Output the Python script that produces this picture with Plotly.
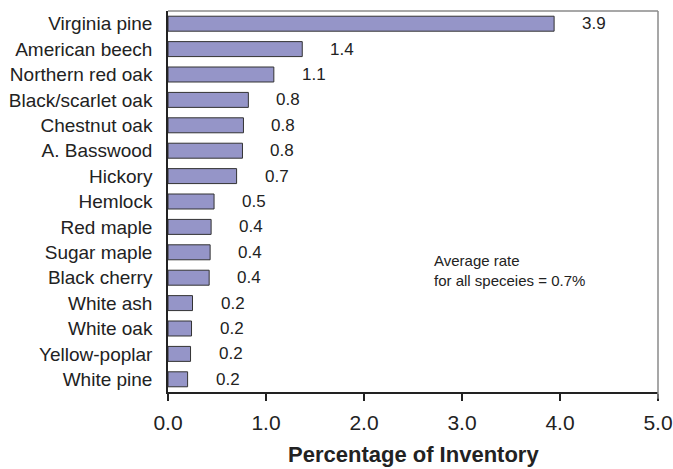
import plotly.graph_objects as go

# Species ranked by rate, as a percentage of inventory
species = [
    "Virginia pine", "American beech", "Northern red oak", "Black/scarlet oak",
    "Chestnut oak", "A. Basswood", "Hickory", "Hemlock", "Red maple",
    "Sugar maple", "Black cherry", "White ash", "White oak", "Yellow-poplar",
    "White pine",
]
rates = [3.94, 1.37, 1.08, 0.82, 0.77, 0.76, 0.70, 0.47, 0.44,
         0.43, 0.42, 0.25, 0.24, 0.23, 0.20]

x_ticks = [0, 1, 2, 3, 4, 5]
x_tick_labels = ["0.0", "1.0", "2.0", "3.0", "4.0", "5.0"]

note_text = "Average rate<br>for all speceies = 0.7%"
x_title = "Percentage of Inventory"

FONT = "Liberation Sans, Arial, sans-serif"
TEXT = "#222222"

fig = go.Figure(
    go.Bar(
        x=rates,
        y=species,
        orientation="h",
        marker=dict(color="#9595C8", line=dict(color="#333333", width=1)),
        hoverinfo="x+y",
    )
)

# Value labels to the right of each bar, rounded to one decimal
for name, val in zip(species, rates):
    fig.add_annotation(
        x=val, y=name, xref="x", yref="y",
        text=f"{val:.1f}", showarrow=False,
        xanchor="center", xshift=40,
        font=dict(family=FONT, size=17, color=TEXT),
    )

fig.add_annotation(
    x=2.69, y=0.32, xref="x", yref="paper",
    text=note_text, showarrow=False,
    xanchor="left", yanchor="middle", align="left",
    font=dict(family=FONT, size=15, color=TEXT),
)

# X axis title placed below the tick labels
fig.add_annotation(
    x=0.5, y=0, xref="paper", yref="paper",
    text=f"<b>{x_title}</b>", showarrow=False,
    xanchor="center", yanchor="top", yshift=-49, borderpad=0,
    font=dict(family=FONT, size=22, color=TEXT),
)

# Light frame on the top and right of the plot area
fig.add_shape(type="line", xref="paper", yref="paper",
              x0=0, x1=1, y0=1, y1=1, line=dict(color="#8a8a8a", width=1.5))
fig.add_shape(type="line", xref="paper", yref="paper",
              x0=1, x1=1, y0=1, y1=-0.018, line=dict(color="#8a8a8a", width=1.5))

fig.update_layout(
    width=673, height=469,
    margin=dict(l=168, r=15, t=11, b=77),
    paper_bgcolor="white", plot_bgcolor="white",
    bargap=0.41,
    showlegend=False,
    font=dict(family=FONT, color=TEXT),
    xaxis=dict(
        range=[0, 5], automargin=False,
        tickvals=x_ticks, ticktext=x_tick_labels,
        ticks="outside", ticklen=7, tickcolor="#222222", tickwidth=1.5,
        showline=True, linecolor="#222222", linewidth=1.5,
        showgrid=False, zeroline=False,
        tickfont=dict(family=FONT, size=21, color=TEXT),
        ticklabelstandoff=4,
    ),
    yaxis=dict(
        autorange="reversed", automargin=False,
        showline=True, linecolor="#222222", linewidth=1.5,
        ticks="", showgrid=False, zeroline=False,
        tickfont=dict(family=FONT, size=19, color=TEXT),
        ticklabelstandoff=10,
    ),
)

fig.write_html("out.html")
